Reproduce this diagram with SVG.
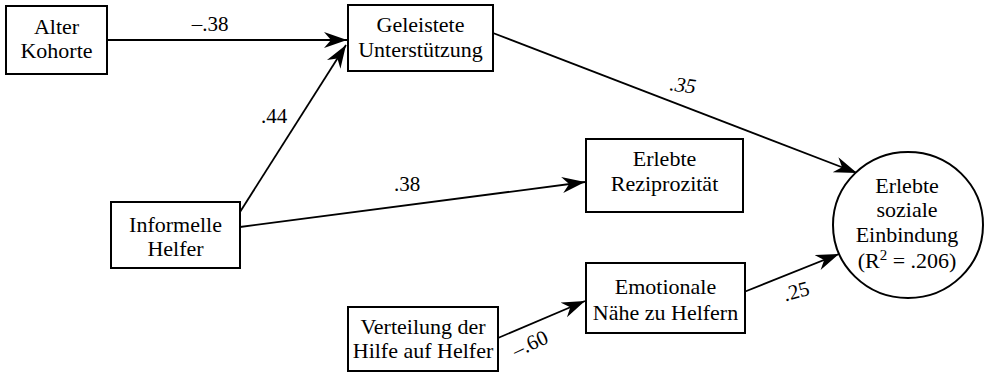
<svg xmlns="http://www.w3.org/2000/svg" width="987" height="372" viewBox="0 0 987 372">
<defs>
<style>
.box{fill:#fff;stroke:#000;stroke-width:2}
.t{font-family:'Liberation Serif','Times New Roman',serif;font-size:22px;fill:#000;text-anchor:middle}
.lbl{font-family:'Liberation Serif','Times New Roman',serif;font-size:21px;fill:#000;text-anchor:middle}
.c{stroke:#000;stroke-width:1.8;fill:none;marker-end:url(#ah)}
</style>
<marker id="ah" markerUnits="userSpaceOnUse" markerWidth="26" markerHeight="18" refX="23" refY="8" orient="auto">
<path d="M0,0 L23,8 L0,16 L7,8 Z" fill="#000"/>
</marker>
</defs>
<rect width="987" height="372" fill="#fff"/>
<g id="connectors">
<line class="c" x1="107" y1="40" x2="347" y2="40"/>
<line class="c" x1="240" y1="212" x2="346" y2="45"/>
<line class="c" x1="240" y1="227" x2="585" y2="182"/>
<line class="c" x1="493" y1="33" x2="857" y2="173"/>
<line class="c" x1="498" y1="338" x2="585" y2="301"/>
<line class="c" x1="744" y1="292" x2="839" y2="254"/>
<text class="lbl" x="210" y="31">–.38</text>
<text class="lbl" x="274" y="123">.44</text>
<text class="lbl" x="407" y="191">.38</text>
<text class="lbl" x="682" y="92" font-style="italic" transform="rotate(8 682 92)">.35</text>
<text class="lbl" x="798" y="298" transform="rotate(-15 798 298)">.25</text>
<text class="lbl" x="533" y="350" transform="rotate(-25 533 350)">–.60</text>
</g>
<g id="alter">
<rect class="box" x="6" y="6" width="101" height="68"/>
<text class="t" x="56.5" y="34">Alter</text>
<text class="t" x="56.5" y="58">Kohorte</text>
</g>
<g id="geleistete">
<rect class="box" x="348" y="5" width="145" height="66"/>
<text class="t" x="420.5" y="32">Geleistete</text>
<text class="t" x="420.5" y="57">Unterstützung</text>
</g>
<g id="informelle">
<rect class="box" x="111" y="202" width="129" height="66"/>
<text class="t" x="175.5" y="232">Informelle</text>
<text class="t" x="175.5" y="256">Helfer</text>
</g>
<g id="reziprozitaet">
<rect class="box" x="586" y="139" width="157" height="73"/>
<text class="t" x="664.5" y="166">Erlebte</text>
<text class="t" x="664.5" y="191">Reziprozität</text>
</g>
<g id="verteilung">
<rect class="box" x="348" y="307" width="150" height="64"/>
<text class="t" x="423" y="334">Verteilung der</text>
<text class="t" x="423" y="358">Hilfe auf Helfer</text>
</g>
<g id="emotionale">
<rect class="box" x="586" y="263" width="159" height="70"/>
<text class="t" x="665.5" y="294">Emotionale</text>
<text class="t" x="665.5" y="320">Nähe zu Helfern</text>
</g>
<g id="einbindung">
<ellipse class="box" cx="908" cy="225" rx="75" ry="73"/>
<text class="t" x="907" y="193">Erlebte</text>
<text class="t" x="907" y="217">soziale</text>
<text class="t" x="907" y="242">Einbindung</text>
<text class="t" x="907" y="268">(R<tspan font-size="15" dy="-8">2</tspan><tspan dy="8"> = .206)</tspan></text>
</g>
</svg>
